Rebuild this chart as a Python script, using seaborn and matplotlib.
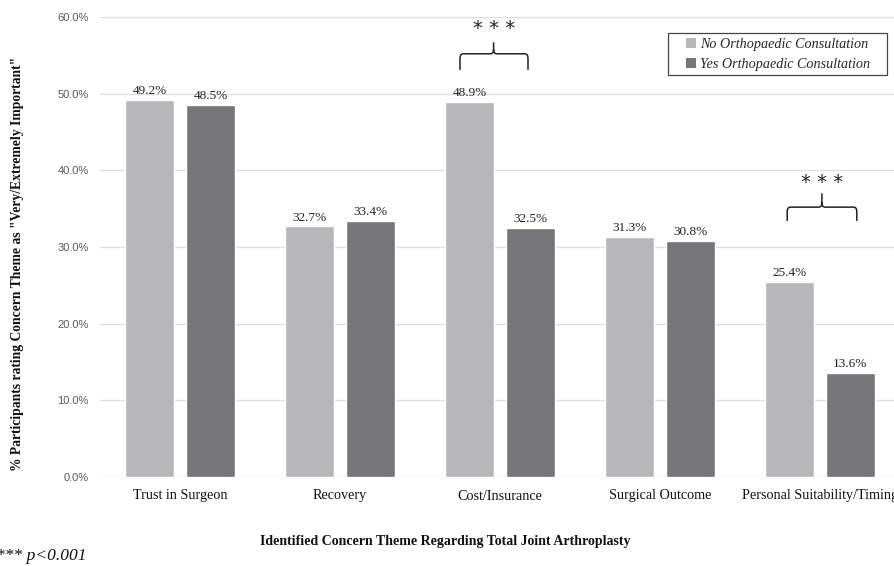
import numpy as np
import pandas as pd
import matplotlib
matplotlib.use("Agg")
import matplotlib.pyplot as plt
from matplotlib.path import Path
from matplotlib.patches import PathPatch, Patch, Rectangle
import seaborn as sns

# ---- data ----
themes = ["Trust in Surgeon", "Recovery", "Cost/Insurance", "Surgical Outcome",
          "Personal Suitability/Timing"]
groups = ["No Orthopaedic Consultation", "Yes Orthopaedic Consultation"]
no_consult = [49.2, 32.7, 48.9, 31.3, 25.4]
yes_consult = [48.5, 33.4, 32.5, 30.8, 13.6]
y_ticks = [0, 10, 20, 30, 40, 50, 60]
sig_themes = ["Cost/Insurance", "Personal Suitability/Timing"]
sig_label = "***"

colors = ["#b7b7ba", "#76767a"]

df = pd.DataFrame({
    "theme": themes * 2,
    "group": [groups[0]] * len(themes) + [groups[1]] * len(themes),
    "pct": no_consult + yes_consult,
})

sns.set_theme(style="white")
plt.rcParams["font.family"] = ["Liberation Serif", "DejaVu Serif"]

fig = plt.figure(figsize=(8.94, 5.66), dpi=100)
W, H = 894, 566
ax = fig.add_axes([100 / W, (H - 477) / H, 794 / W, 460 / H])

sns.barplot(data=df, x="theme", y="pct", hue="group", order=themes,
            hue_order=groups, palette=colors, width=0.76, gap=0.19,
            saturation=1, ax=ax, legend=False)

for cont in ax.containers:
    ax.bar_label(cont, fmt="%.1f%%", padding=2, fontsize=9.5,
                 family="Liberation Serif", color="#222222")

ax.set_ylim(0, 60)
ax.set_xlim(-0.5, -0.5 + 794 / 160)
ax.set_yticks(y_ticks)
ax.set_yticklabels([f"{v:.1f}%" for v in y_ticks], family="Liberation Sans",
                   fontsize=8, color="#595959")
ax.yaxis.grid(True, color="#dedede", lw=0.9)
ax.set_axisbelow(True)
for s in ax.spines.values():
    s.set_visible(False)
ax.tick_params(axis="y", length=0, pad=8)
ax.tick_params(axis="x", length=0, pad=9)
ax.set_xticks(range(len(themes)))
ax.set_xticklabels(themes, fontsize=10.2, family="Liberation Serif", color="#111111")

ax.set_xlabel("")
ax.set_ylabel("")
fig.text(18 / W, 1 - 264 / H,
         '% Participants rating Concern Theme as "Very/Extremely Important"',
         rotation=90, ha="center", va="center", fontsize=9.8, fontweight="bold",
         family="Liberation Serif", color="#111111")
fig.text(445 / W, 1 - 541 / H,
         "Identified Concern Theme Regarding Total Joint Arthroplasty",
         ha="center", va="center", fontsize=10, fontweight="bold",
         family="Liberation Serif", color="#111111")
fig.text(-4 / W, 1 - 556 / H, "*** p<0.001", ha="left", va="center",
         fontsize=12.5, style="italic", family="Liberation Serif", color="#111111")

# legend (frame drawn separately for exact size)
fig.patches.append(Rectangle((668 / W, 1 - 75 / H), 219 / W, 42 / H,
                             transform=fig.transFigure, fill=False,
                             edgecolor="#444444", lw=0.9))
handles = [Patch(facecolor=c, edgecolor="none") for c in colors]
leg = fig.legend(handles, groups, loc="center",
                 bbox_to_anchor=(778 / W, 1 - 54.5 / H), bbox_transform=fig.transFigure,
                 frameon=False, borderaxespad=0,
                 handlelength=0.7, handleheight=0.7, handletextpad=0.3,
                 labelspacing=0.45, borderpad=0.0,
                 prop={"family": "Liberation Serif", "style": "italic", "size": 10.2})


# significance braces
def brace(ax, x0, x1, xt, yb, ye, yt, rx=0.02, ry=0.6):
    verts = [(x0, ye), (x0, yb - ry), (x0, yb), (x0 + rx, yb),
             (xt - rx, yb), (xt, yb), (xt, yb + ry), (xt, yt),
             (xt, yb + ry), (xt, yb), (xt + rx, yb),
             (x1 - rx, yb), (x1, yb), (x1, yb - ry), (x1, ye)]
    codes = [Path.MOVETO, Path.LINETO, Path.CURVE3, Path.CURVE3,
             Path.LINETO, Path.CURVE3, Path.CURVE3, Path.LINETO,
             Path.MOVETO, Path.CURVE3, Path.CURVE3,
             Path.LINETO, Path.CURVE3, Path.CURVE3, Path.LINETO]
    ax.add_patch(PathPatch(Path(verts, codes), fill=False, edgecolor="#222222",
                           lw=1.1, clip_on=False))

# (x offsets relative to category center, y levels)
brace_geo = {
    "Cost/Insurance": dict(dx0=-0.25, dx1=0.175, dxt=-0.04, yb=55.2, ye=53.1, yt=56.7, ys=58.5),
    "Personal Suitability/Timing": dict(dx0=-0.205, dx1=0.23, dxt=0.012, yb=35.2, ye=33.4, yt=37.0, ys=38.4),
}
for th in sig_themes:
    g = brace_geo[th]
    c = themes.index(th)
    brace(ax, c + g["dx0"], c + g["dx1"], c + g["dxt"], g["yb"], g["ye"], g["yt"])
    ax.text(c + g["dxt"], g["ys"], " ".join(sig_label), ha="center", va="center",
            fontsize=14, family="DejaVu Sans", color="#222222")

fig.savefig("out.png", dpi=100)
